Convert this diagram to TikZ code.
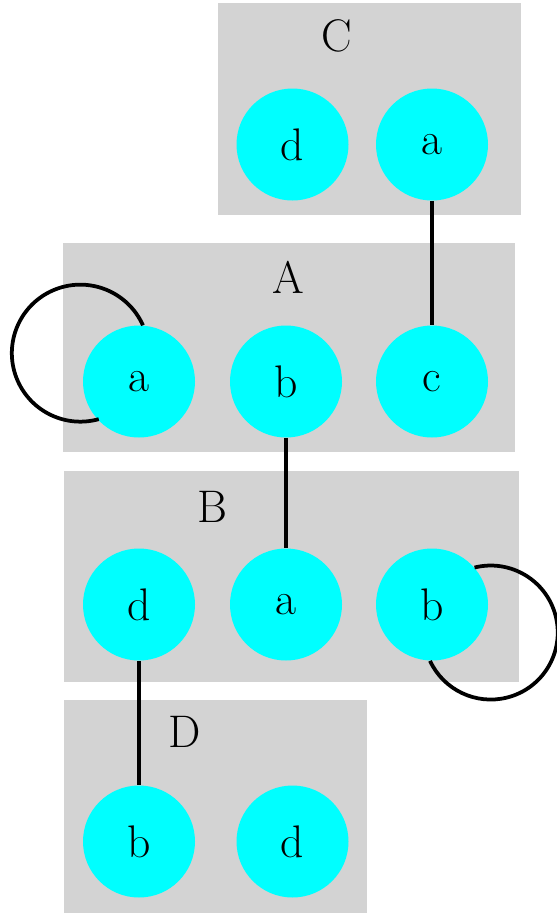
\documentclass[tikz,border=0pt]{standalone}
\usetikzlibrary{calc}
\definecolor{clustergray}{RGB}{211,211,211}
\definecolor{statecyan}{RGB}{0,255,255}
\tikzset{
    cluster/.style = {
        fill=clustergray,
        draw=none,
    },
    state/.style = {
        circle,
        fill=statecyan,
        minimum size=2.24cm,
        inner sep=0pt,
    },
    link/.style = {
        line width=0.075cm,
        black,
    },
    title/.style = {
        anchor=base,
    }
}

\begin{document}
\begin{tikzpicture}[font=\fontsize{26}{31}\selectfont]
  \useasboundingbox (0, 0) rectangle (11.14, -18.26);

  % Draw all clusters
  \fill[cluster] (4.36, -0.06) rectangle (10.42, -4.30);
  \fill[cluster] (1.26, -4.86) rectangle (10.30, -9.04);
  \fill[cluster] (1.28, -9.42) rectangle (10.38, -13.64);
  \fill[cluster] (1.28, -14.00) rectangle (7.34, -18.26);

  \node[title] (Ctitle) at (6.74, -1.02) {C};
  \node[title] (Atitle) at (5.76, -5.86) {A};
  \node[title] (Btitle) at (4.24, -10.44) {B};
  \node[title] (Dtitle) at (3.70, -14.94) {D};

  % Draw all states
  \node[state] (Cd) at (5.85, -2.89) {d};
  \node[state] (Ca) at (8.64, -2.89) {a};

  \node[state] (Aa) at (2.78, -7.63) {a};
  \node[state] (Ab) at (5.72, -7.63) {b};
  \node[state] (Ac) at (8.64, -7.63) {c};

  \node[state] (Bd) at (2.78, -12.09) {d};
  \node[state] (Ba) at (5.72, -12.09) {a};
  \node[state] (Bb) at (8.64, -12.09) {b};

  \node[state] (Db) at (2.78, -16.83) {b};
  \node[state] (Dd) at (5.85, -16.83) {d};

  % Links between clusters
  \draw[link] (Ca) -- (Ac);
  \draw[link] (Ab) -- (Ba);
  \draw[link] (Bd) -- (Db);

  \draw[link] (Aa.86) arc[start angle=24, end angle=285.6, radius=1.37];
  \draw[link] (Bb.41.6) arc[start angle=104, end angle=-155, radius=1.34];

\end{tikzpicture}
\end{document}
